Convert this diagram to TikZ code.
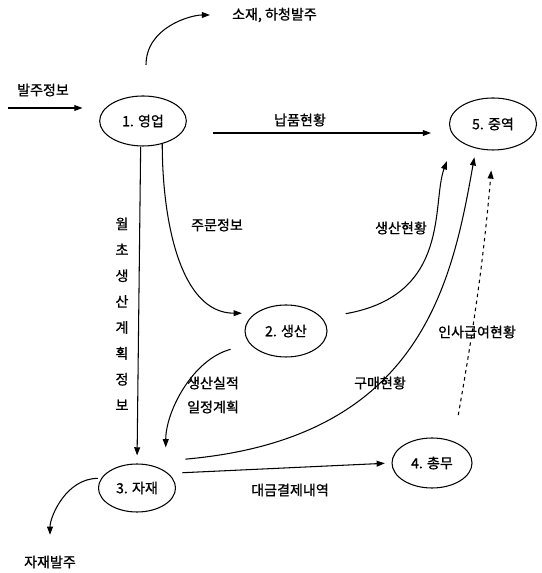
\documentclass[tikz,border=0pt]{standalone}
\usepackage{fontspec}
\setmainfont{Noto Sans CJK KR}[FakeBold=1]
\usepackage{tikz}
\usetikzlibrary{arrows.meta,shapes.geometric,calc}
\tikzset{
  proc/.style={draw, ellipse, line width=0.9pt, minimum width=2.6cm, minimum height=1.5cm, inner sep=0pt,
    font=\fontsize{12}{14}\selectfont},
  flow/.style={-{Triangle[length=7pt,width=5pt]}, line width=0.9pt},
  lbl/.style={font=\fontsize{12}{14}\selectfont}
}

\begin{document}
\begin{tikzpicture}[x=0.03cm, y=0.03cm]
  \useasboundingbox (0,0) rectangle (541,573);

  % Processes
  \node[proc] (e1) at (143,452) {1. 영업};
  \node[proc, minimum width=2.46cm, minimum height=1.56cm] (e2) at (286,242) {2. 생산};
  \node[proc, minimum width=2.31cm, minimum height=1.44cm] (e3) at (137,85) {3. 자재};
  \node[proc, minimum width=2.4cm] (e4) at (432,110) {4. 총무};
  \node[proc, minimum width=2.61cm, minimum height=1.56cm] (e5) at (493,449) {5. 중역};

  % Labels
  \node[lbl, anchor=west] (sojae) at (228,558) {소재, 하청발주};
  \node[lbl] (baljoo) at (43,483) {발주정보};
  \node[lbl] (napum) at (300,453) {납품현황};
  \node[lbl] (jumun) at (217,348) {주문정보};
  \node[lbl] (saengsan) at (401,345) {생산현황};
  \node[lbl] (insa) at (477,241) {인사급여현황};
  \node[align=center, font=\fontsize{12}{22.1}\selectfont] (wolcho) at (122,259)
    {월\\초\\생\\산\\계\\획\\정\\보};
  \node[lbl] (silj) at (213,190) {생산실적};
  \node[lbl] (iljeong) at (213,166) {일정계획};
  \node[lbl] (gumae) at (380,190) {구매현황};
  \node[lbl] (daegeum) at (290,83) {대금결제내역};
  \node[lbl] (jajae) at (50,11) {자재발주};

  % Free ends
  \coordinate (in1) at (8,465);
  \coordinate (c_sojae) at (146,508);

  % Flows
  \draw[flow, shorten >=0.5cm] (in1) -- (in1 -| e1.west);
  \draw[flow, shorten >=0.54cm] (c_sojae) to[out=90, in=180] (sojae.west);
  \draw[flow, shorten <=0.78cm, shorten >=0.54cm] (e1.east |- 0,440) -- (e5.west |- 0,440);
  \draw[flow, shorten >=0.24cm] ([xshift=-2pt]e1.south) -- (e3.north);
  \draw[flow, shorten >=0.4cm] (e1.-50) to[out=-90, in=180] (e2.150);
  \draw[flow, shorten <=0.6cm, shorten >=0.72cm] (e2.200) to[out=195, in=90] (e3.30);
  \draw[flow, shorten <=0.72cm, shorten >=0.75cm] (e2.20)
    to[out=10, in=-110, out looseness=1.5, in looseness=0.8] (e5.200);
  \draw[flow, shorten <=0.75cm, shorten >=0.27cm] ([yshift=6pt]e3.40)
    to[out=5, in=-100, out looseness=1.5, in looseness=0.8] (e5.235);
  \draw[flow, dashed, shorten <=0.8cm, shorten >=0.6cm] (e4.45) to[out=80, in=-95] (e5.south);
  \draw[flow, shorten <=0.42cm, shorten >=0.2cm] (e3.25) -- (e4.west);
  \draw[flow, shorten <=0.1cm, shorten >=0.5cm] (e3.165) to[out=180, in=90] (jajae.north);
\end{tikzpicture}
\end{document}
